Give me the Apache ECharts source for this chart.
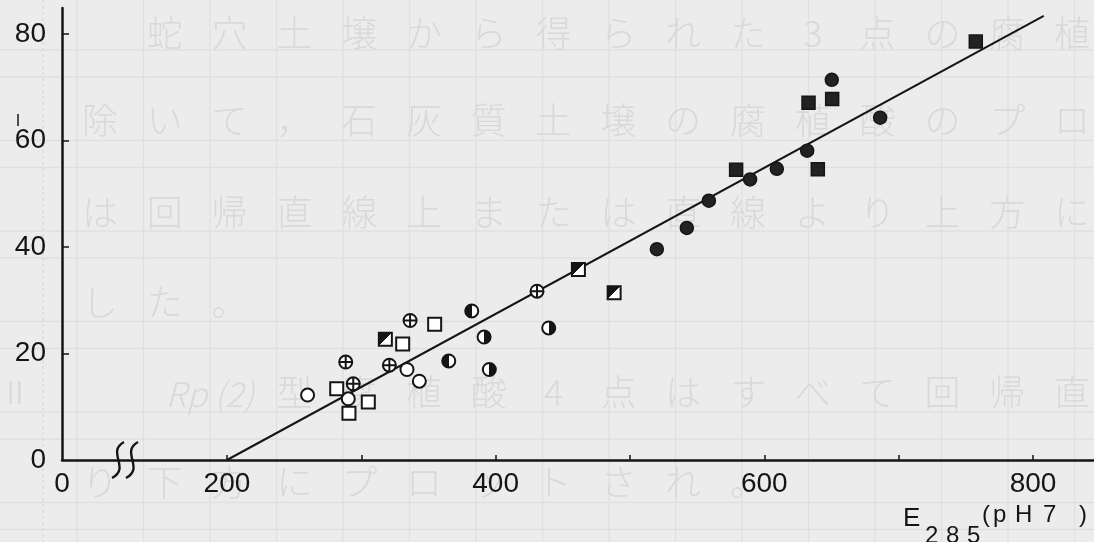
<!DOCTYPE html>
<html><head><meta charset="utf-8">
<script src="https://cdn.jsdelivr.net/npm/echarts@6/dist/echarts.min.js"></script>
<style>html,body{margin:0;padding:0;background:#ececec}#c{width:1094px;height:542px}</style>
</head><body><div id="c"></div>
<script>
// ---- data ----
const xMin = 77.2;              // broken axis: the origin label "0" sits here
const xMax = 845.4;
const xOriginLabel = '0';
const xLabelValues = [200, 400, 600, 800];
const xTickValues = [200, 300, 400, 500, 600, 700, 800];
const yLabelValues = [0, 20, 40, 60, 80];
const yTickValues = [20, 40, 60, 80];
const yMax = 84.9;

const openCircles = [[260, 12.2], [290.3, 11.5], [334, 17.0], [343.2, 14.8]];
const crossedCircles = [[288.4, 18.4], [294, 14.3], [320.9, 17.8], [336.3, 26.2], [430.8, 31.7]];
const halfCirclesLeft = [[365.1, 18.6], [382.2, 28.0]];
const halfCirclesRight = [[391.4, 23.1], [395.3, 17.0], [439.5, 24.8]];
const filledCircles = [[520, 39.6], [542.3, 43.6], [558.7, 48.7], [589.4, 52.7], [609.3, 54.7], [631.9, 58.1], [686.2, 64.3], [650.2, 71.4]];
const openSquares = [[281.7, 13.4], [290.8, 8.8], [305.2, 10.9], [330.8, 21.8], [354.6, 25.5]];
const halfSquares = [[317.9, 22.7], [461.6, 35.8], [488.2, 31.4]];
const filledSquares = [[579, 54.5], [639.8, 54.6], [632.9, 67.1], [650.5, 67.8], [757.4, 78.6]];
const regressionLine = [[200, 0], [808, 83.4]];

// faint manuscript text showing through the scan
const paperRows = [
  {start: 1, text: '蛇穴土壌から得られた3点の腐植'},
  {start: 0, text: '除いて，石灰質土壌の腐植酸のプロ'},
  {start: 0, text: 'は回帰直線上または直線より上方に'},
  {start: 0, text: 'した。'},
  {start: 3, text: '型腐植酸4点はすべて回帰直'},
  {start: 0, text: 'り下方にプロットされ。'}
];
const paperRowY = [33, 120, 212, 302, 392, 482];

// ---- styles ----
const INK = '#151515';
const PAPER = '#ececec';
const FAINT_LINE = '#e0e0e0';
const FAINT_TEXT = '#d9d9d9';
const FONT = '"Liberation Sans", Arial, sans-serif';

const graphics = [];
// manuscript paper lines
[50, 77, 140.5, 167.5, 231, 258, 321.5, 348.5, 412, 439, 502.5, 529.5].forEach(y => {
  graphics.push({type: 'line', z: -100, silent: true, shape: {x1: 0, y1: y, x2: 1094, y2: y}, style: {stroke: FAINT_LINE, lineWidth: 1.5}});
});
for (let k = 0; k < 16; k++) {
  const x = 77 + 66.5 * k;
  graphics.push({type: 'line', z: -100, silent: true, shape: {x1: x, y1: 0, x2: x, y2: 542}, style: {stroke: FAINT_LINE, lineWidth: 1.2}});
}
graphics.push({type: 'line', z: -100, silent: true, shape: {x1: 43, y1: 0, x2: 43, y2: 542}, style: {stroke: '#d8d8d8', lineWidth: 1.2, lineDash: [3, 3]}});
paperRows.forEach((row, r) => {
  Array.from(row.text).forEach((ch, i) => {
    graphics.push({type: 'text', z: -90, silent: true, x: 100 + 64.8 * (row.start + i), y: paperRowY[r],
      style: {text: ch, font: '300 36px "Noto Sans CJK JP"', fill: FAINT_TEXT, align: 'center', verticalAlign: 'middle'}});
  });
});
graphics.push({type: 'text', z: -90, silent: true, x: 15, y: 392, style: {text: 'Ⅱ', font: '300 32px "Noto Sans CJK JP"', fill: FAINT_TEXT, align: 'center', verticalAlign: 'middle'}});
graphics.push({type: 'text', z: -90, silent: true, x: 210, y: 394, style: {text: 'Rp (2)', font: 'italic 300 34px "Noto Sans CJK JP"', fill: FAINT_TEXT, align: 'center', verticalAlign: 'middle'}});

// axis break marks
[0, 14].forEach(dx => {
  graphics.push({type: 'bezierCurve', z: 50, silent: true,
    shape: {x1: 124 + dx, y1: 442, cpx1: 106 + dx, cpy1: 452, cpx2: 131 + dx, cpy2: 468, x2: 112 + dx, y2: 478},
    style: {stroke: INK, lineWidth: 2.4, fill: null}});
});
// stray pen mark above 60
graphics.push({type: 'line', z: 50, silent: true, shape: {x1: 18, y1: 114, x2: 18, y2: 126}, style: {stroke: INK, lineWidth: 1.5}});

// x axis name E285(pH7)
const nameParts = [
  {t: 'E', x: 903, y: 506, s: 26},
  {t: '2', x: 925, y: 524, s: 24}, {t: '8', x: 946, y: 524, s: 24}, {t: '5', x: 967, y: 524, s: 24},
  {t: '(', x: 982, y: 503, s: 24}, {t: 'p', x: 993, y: 503, s: 24}, {t: 'H', x: 1015, y: 503, s: 24},
  {t: '7', x: 1043, y: 503, s: 24}, {t: ')', x: 1079, y: 503, s: 24}
];
nameParts.forEach(p => graphics.push({type: 'text', z: 50, silent: true, x: p.x, y: p.y,
  style: {text: p.t, font: p.s + 'px ' + FONT, fill: INK, align: 'left', verticalAlign: 'top'}}));

const halfGrad = (x2, y2, blackFirst) => new echarts.graphic.LinearGradient(0, 0, x2, y2, blackFirst
  ? [{offset: 0, color: INK}, {offset: 0.5, color: INK}, {offset: 0.5, color: '#fff'}, {offset: 1, color: '#fff'}]
  : [{offset: 0, color: '#fff'}, {offset: 0.5, color: '#fff'}, {offset: 0.5, color: INK}, {offset: 1, color: INK}]);

const crossCircle = 'path://M10,0A10,10,0,1,1,10,20A10,10,0,1,1,10,0ZM0,10L20,10M10,0L10,20';

function scatter(name, data, symbol, size, color, bw) {
  return {name, type: 'scatter', data, symbol, symbolSize: size, z: 5,
    itemStyle: {color, borderColor: INK, borderWidth: bw, opacity: 1}, emphasis: {disabled: true}};
}

const chart = echarts.init(document.getElementById('c'), null, {renderer: 'canvas'});
chart.setOption({
  backgroundColor: PAPER,
  animation: false,
  grid: {left: 62, right: 0, top: 8, bottom: 82, containLabel: false, outerBoundsMode: 'none'},
  xAxis: {
    type: 'value', min: xMin, max: xMax,
    axisLine: {onZero: false, lineStyle: {color: INK, width: 2.5}},
    axisTick: {inside: true, length: 5, customValues: xTickValues, lineStyle: {color: INK, width: 1.5}},
    axisLabel: {customValues: [xMin].concat(xLabelValues), margin: 10, color: INK, fontSize: 28, fontFamily: FONT,
      formatter: v => (v === xMin ? xOriginLabel : String(v))},
    splitLine: {show: false}
  },
  yAxis: {
    type: 'value', min: 0, max: yMax,
    axisLine: {onZero: false, lineStyle: {color: INK, width: 2.5}},
    axisTick: {inside: true, length: 7, customValues: yTickValues, lineStyle: {color: INK, width: 1.5}},
    axisLabel: {customValues: yLabelValues, margin: 16, color: INK, fontSize: 28, fontFamily: FONT},
    splitLine: {show: false}
  },
  graphic: graphics,
  series: [
    {type: 'line', data: regressionLine, symbol: 'none', z: 3, lineStyle: {color: INK, width: 2}, silent: true},
    scatter('open circle', openCircles, 'circle', 13, '#fff', 2),
    scatter('crossed circle', crossedCircles, crossCircle, 13, '#fff', 2),
    scatter('half circle L', halfCirclesLeft, 'circle', 13, halfGrad(1, 0, true), 2),
    scatter('half circle R', halfCirclesRight, 'circle', 13, halfGrad(1, 0, false), 2),
    scatter('filled circle', filledCircles, 'circle', 13, '#222', 1.5),
    scatter('open square', openSquares, 'rect', 13, '#fff', 2),
    scatter('half square', halfSquares, 'rect', 13, halfGrad(1, 1, true), 2),
    scatter('filled square', filledSquares, 'rect', 13, '#222', 1.5)
  ]
});
</script></body></html>
